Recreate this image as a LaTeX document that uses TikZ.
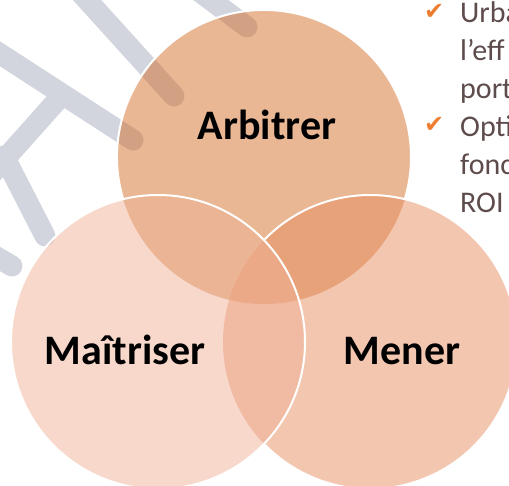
\documentclass[tikz,border=0pt]{standalone}
\usepackage{fontspec}
\setmainfont{Carlito}
\newfontfamily\symfont{DejaVu Sans}
\definecolor{arbfill}{HTML}{D36F29}
\definecolor{menfill}{HTML}{E78D61}
\definecolor{maifill}{HTML}{EFB197}
\definecolor{markgray}{HTML}{D2D5DE}
\definecolor{tickorange}{HTML}{ED7D31}
\definecolor{bullettext}{HTML}{5E4B4B}
\begin{document}
\begin{tikzpicture}[x=1pt,y=-1pt,
  venn/.style={fill opacity=0.5},
  rim/.style={draw=white,line width=2pt},
  vennlabel/.style={inner sep=0pt,anchor=base,font=\fontsize{42}{50}\selectfont\bfseries},
  band/.style={draw=markgray,line width=21pt,line cap=round},
  bullet/.style={inner sep=0pt,anchor=base west,text=bullettext,font=\fontsize{30}{36}\selectfont},
  tickmark/.style={inner sep=0pt,anchor=base west,text=tickorange,font=\symfont\fontsize{24}{28}\selectfont}]

\useasboundingbox (0,0) rectangle (509,486);

\draw[band] (78,-10) -- (174,96);
\draw[band] (-12,46) -- (133,140);
\draw[band] (62,95) -- (-12,178);
\draw[band] (4,156) -- (45,236);
\draw[band] (200,-8) -- (247,27);
\draw[band] (-12,252) -- (12,266);

\coordinate (arb) at (264,157);
\coordinate (mai) at (158,342);
\coordinate (men) at (370,342);

\fill[venn,arbfill] (arb) circle[radius=147];
\fill[venn,menfill] (men) circle[radius=147];
\fill[venn,maifill] (mai) circle[radius=147];

\draw[rim] ([shift={(163.3:147)}]arb) arc[start angle=163.3,end angle=376.7,radius=147];
\draw[rim] ([shift={(-136.1:147)}]men) arc[start angle=-136.1,end angle=136.1,radius=147];
\draw[rim] (mai) circle[radius=147];

\node[vennlabel] (arbtxt) at (267,140) {Arbitrer};
\node[vennlabel] (maitxt) at (125,365) {Maîtriser};
\node[vennlabel] (mentxt) at (402,365) {Mener};

\node[tickmark] (tick1) at (424,20) {✔};
\node[bullet] (urba) at (460,23) {Urba};
\node[bullet] (leff) at (460,61) {l’eff};
\node[bullet] (port) at (460,99) {port};
\node[tickmark] (tick2) at (424,133) {✔};
\node[bullet] (opti) at (460,137) {Opti};
\node[bullet] (fonc) at (460,175) {fonc};
\node[bullet] (roi) at (460,213) {ROI};

\end{tikzpicture}
\end{document}
